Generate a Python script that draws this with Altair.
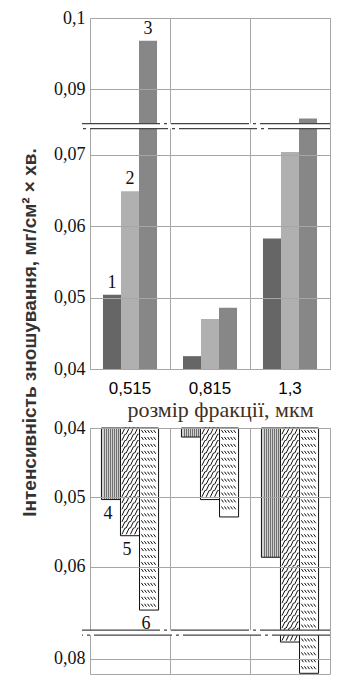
import altair as alt
import pandas as pd

# ---------------- data ----------------
categories = ["0,515", "0,815", "1,3"]

top_series = ["1", "2", "3"]
top_s1 = [0.0504, 0.0418, 0.0583]
top_s2 = [0.0649, 0.0470, 0.0704]
top_s3 = [0.0968, 0.0486, 0.0859]

bottom_series = ["4", "5", "6"]
bot_s4 = [0.0503, 0.0413, 0.0586]
bot_s5 = [0.0555, 0.0503, 0.0776]
bot_s6 = [0.0662, 0.0528, 0.0821]

top_ticks = [0.04, 0.05, 0.06, 0.07, 0.09, 0.1]
bottom_ticks = [0.04, 0.05, 0.06, 0.08]

x_title = "розмір фракції, мкм"
y_title = "Інтенсивність зношування, мг/см² × хв."

top_colors = ["#666666", "#b0b0b0", "#878787"]

SERIF = "Liberation Serif, Times New Roman, serif"
SANS = "Liberation Sans, Arial, sans-serif"

# ---------------- broken axis settings ----------------
BASE = 0.04
TOP_CUT, TOP_GAP, TOP_MAX = 0.08, 0.0108, 0.1
BOT_CUT, BOT_GAP, BOT_MAX = 0.072, 0.0068, 0.0822
top_break = [0.0737, 0.0744]
bot_break = [0.0691, 0.0698]

W, HT, HB = 240, 351, 246
GRID = "#a6a6a6"


def tr(v, cut, gap):
    return v - gap if v > cut else v


def make_df(series, vals, cut, gap):
    rows = []
    for s, vs in zip(series, vals):
        for c, v in zip(categories, vs):
            rows.append({"cat": c, "s": s, "v": v, "yt": tr(v, cut, gap),
                         "base": BASE, "lab": s if c == categories[0] else ""})
    return pd.DataFrame(rows)


top_df = make_df(top_series, [top_s1, top_s2, top_s3], TOP_CUT, TOP_GAP)
bot_df = make_df(bottom_series, [bot_s4, bot_s5, bot_s6], BOT_CUT, BOT_GAP)

top_tick_pos = [tr(t, TOP_CUT, TOP_GAP) for t in top_ticks]
bot_tick_pos = [tr(t, BOT_CUT, BOT_GAP) for t in bottom_ticks]

top_label_expr = (f"replace(format(datum.value > {top_break[1]} ? datum.value + {TOP_GAP} : datum.value, '.2~f'), '.', ',')")
bot_label_expr = (f"replace(format(datum.value > {bot_break[1]} ? datum.value + {BOT_GAP} : datum.value, '.2~f'), '.', ',')")

x_scale = alt.Scale(domain=categories, paddingInner=0, paddingOuter=0)
top_off = alt.XOffset("s:N", scale=alt.Scale(domain=top_series, paddingInner=0, paddingOuter=0.72))
bot_off = alt.XOffset("s:N", scale=alt.Scale(domain=bottom_series, paddingInner=0, paddingOuter=0.6))

top_y_scale = alt.Scale(domain=[BASE, TOP_MAX - TOP_GAP], nice=False, zero=False)
bot_y_scale = alt.Scale(domain=[BASE, BOT_MAX - BOT_GAP], nice=False, zero=False, reverse=True)

x_top_axis = alt.Axis(title=x_title, titleFont=SERIF, titleFontSize=22,
                      titleFontWeight="normal", titleColor="#3f2f1f", titleX=130, titleY=47,
                      titleBaseline="alphabetic", titleAlign="center",
                      labelFont=SANS, labelFontSize=17, labelColor="#000000",
                      labelAngle=0, labelPadding=11, ticks=False, tickSize=0, domain=False,
                      grid=True, gridColor=GRID, bandPosition=0, zindex=0)
x_bot_axis = alt.Axis(title="", labels=False, ticks=False, tickSize=0, domain=False,
                      grid=True, gridColor=GRID, bandPosition=0, zindex=0)

y_top_axis = alt.Axis(values=top_tick_pos, labelExpr=top_label_expr, title=y_title,
                      titleX=-55, titleY=314, titleAngle=270, titleAlign="center",
                      titleBaseline="alphabetic", titleFont=SANS, titleFontSize=19,
                      titleFontWeight="bold", titleColor="#333333",
                      labelFont=SERIF, labelFontSize=18, labelColor="#111111",
                      labelPadding=5, ticks=False, tickSize=0, domain=False, grid=True,
                      gridColor=GRID, zindex=1)
y_bot_axis = alt.Axis(values=bot_tick_pos, labelExpr=bot_label_expr, title="",
                      labelFont=SERIF, labelFontSize=18, labelColor="#111111",
                      labelPadding=5, ticks=False, tickSize=0, domain=False, grid=True,
                      gridColor=GRID, zindex=1)

TX = alt.X("cat:N", scale=x_scale, axis=x_top_axis)
TY = lambda f: alt.Y(f, scale=top_y_scale, axis=y_top_axis, title=y_title)
BX = alt.X("cat:N", scale=x_scale, axis=x_bot_axis)
BY = lambda f: alt.Y(f, scale=bot_y_scale, axis=y_bot_axis, title="")

# ---------------- top panel ----------------
tbase = alt.Chart(top_df)
top_bars = tbase.mark_bar().encode(
    x=TX, xOffset=top_off, y=TY("yt:Q"), y2="base:Q",
    color=alt.Color("s:N", scale=alt.Scale(domain=top_series, range=top_colors), legend=None),
)
top_labels = tbase.transform_filter("datum.lab != ''").mark_text(
    font=SERIF, fontSize=18, baseline="alphabetic", dy=-7, color="#111111"
).encode(x=TX, xOffset=top_off, y=TY("yt:Q"), text="lab:N")

tbreak_df = pd.DataFrame({"yt": [top_break[0]], "yt2": [top_break[1]]})
top_band = alt.Chart(tbreak_df).mark_rect(color="white").encode(
    y=TY("yt:Q"), y2="yt2:Q", x=alt.value(-8), x2=alt.value(W))
top_line_a = alt.Chart(pd.DataFrame({"yt": [top_break[1]]})).mark_rule(
    color="#444444", strokeWidth=1.2, strokeDash=[78, 4, 3, 4], strokeDashOffset=0
).encode(y=TY("yt:Q"), x=alt.value(-8), x2=alt.value(W))
top_line_b = alt.Chart(pd.DataFrame({"yt": [top_break[0]]})).mark_rule(
    color="#444444", strokeWidth=1.2, strokeDash=[78, 4, 3, 4], strokeDashOffset=-8
).encode(y=TY("yt:Q"), x=alt.value(-8), x2=alt.value(W))

top = alt.layer(top_bars, top_band, top_line_a, top_line_b, top_labels).properties(width=W, height=HT)

# ---------------- bottom panel ----------------
stops = []
for i in range(9):
    a = i / 9
    b = (i + 0.5) / 9
    c = (i + 1) / 9
    stops += [alt.GradientStop(color="#707070", offset=a), alt.GradientStop(color="#707070", offset=b),
              alt.GradientStop(color="#d0d0d0", offset=b), alt.GradientStop(color="#d0d0d0", offset=c)]
dots = alt.LinearGradient(gradient="linear", stops=stops, x1=0, x2=1, y1=0, y2=0)

# hatch symbols (unit square -1..1)
zig_path = " ".join(f"M {x:.2f} 0.37 L {x + 0.35:.2f} -0.37 L {x + 0.47:.2f} -0.37"
                    for x in [-0.95, -0.45, 0.05, 0.55])
dash_path = " ".join(f"M {x:.2f} -0.17 L {x + 0.24:.2f} 0.17"
                     for x in [-0.9, -0.54, -0.18, 0.18, 0.54])

bbase = alt.Chart(bot_df)

bot_bar4 = bbase.transform_filter("datum.s == '4'").mark_bar(
    fill=dots, stroke="#111111", strokeWidth=1).encode(
    x=BX, xOffset=bot_off, y=BY("yt:Q"), y2="base:Q")
bot_bar56 = bbase.transform_filter("datum.s != '4'").mark_bar(
    fill="white", stroke="#111111", strokeWidth=1).encode(
    x=BX, xOffset=bot_off, y=BY("yt:Q"), y2="base:Q")

hatch5 = bbase.transform_filter("datum.s == '5'").transform_calculate(
    rows="sequence(0.04045, datum.yt - 0.0004, 0.0009)").transform_flatten(["rows"]).mark_point(
    shape=zig_path, size=289, filled=False, stroke="#111111", strokeWidth=1, opacity=1).encode(
    x=BX, xOffset=bot_off, y=BY("rows:Q"))
hatch6 = bbase.transform_filter("datum.s == '6'").transform_calculate(
    rows="sequence(0.0405, datum.yt - 0.0004, 0.001)").transform_flatten(["rows"]).mark_point(
    shape=dash_path, size=289, filled=False, stroke="#111111", strokeWidth=1, opacity=1).encode(
    x=BX, xOffset=bot_off, y=BY("rows:Q"))

bot_labels = bbase.transform_filter("datum.lab != ''").mark_text(
    font=SERIF, fontSize=18, baseline="top", dy=5, dx=-3, color="#111111"
).encode(x=BX, xOffset=bot_off, y=BY("yt:Q"), text="lab:N")

bbreak_df = pd.DataFrame({"yt": [bot_break[0]], "yt2": [bot_break[1]]})
bot_band = alt.Chart(bbreak_df).mark_rect(color="white").encode(
    y=BY("yt:Q"), y2="yt2:Q", x=alt.value(-8), x2=alt.value(W))
bot_line_a = alt.Chart(pd.DataFrame({"yt": [bot_break[0]]})).mark_rule(
    color="#444444", strokeWidth=1.2, strokeDash=[78, 4, 3, 4], strokeDashOffset=0
).encode(y=BY("yt:Q"), x=alt.value(-8), x2=alt.value(W))
bot_line_b = alt.Chart(pd.DataFrame({"yt": [bot_break[1]]})).mark_rule(
    color="#444444", strokeWidth=1.2, strokeDash=[78, 4, 3, 4], strokeDashOffset=-12
).encode(y=BY("yt:Q"), x=alt.value(-8), x2=alt.value(W))

bottom = alt.layer(bot_bar4, bot_bar56, hatch5, hatch6, bot_band, bot_line_a, bot_line_b,
                   bot_labels).properties(width=W, height=HB)

chart = alt.vconcat(top, bottom, spacing=59, bounds="flush").resolve_scale(
    x="independent", y="independent", xOffset="independent", color="independent"
).properties(
    padding={"left": 11, "top": 0, "right": 0, "bottom": 0}
).configure_view(stroke=GRID, strokeWidth=1)

chart.save("out.html", embed_options={"renderer": "svg", "actions": False})
